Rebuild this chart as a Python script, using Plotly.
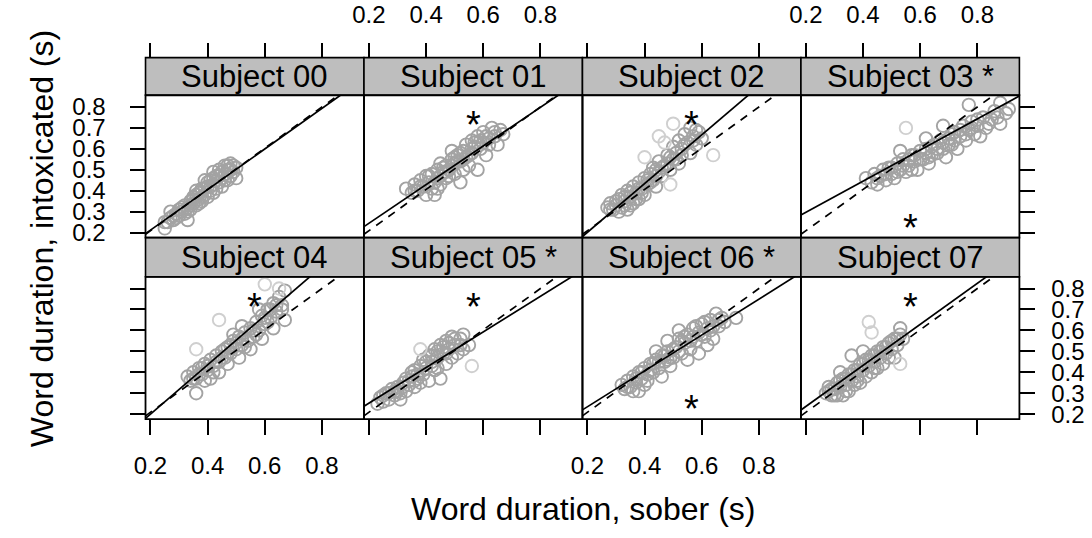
import plotly.graph_objects as go

# ---- data: word durations (s), sober vs intoxicated, per subject ----
subjects = ["Subject 00", "Subject 01", "Subject 02", "Subject 03",
            "Subject 04", "Subject 05", "Subject 06", "Subject 07"]
strip_labels = ["Subject 00", "Subject 01", "Subject 02", "Subject 03 *",
                "Subject 04", "Subject 05 *", "Subject 06 *", "Subject 07"]

sober_s00 = [0.25, 0.26, 0.27, 0.28, 0.29, 0.30, 0.30, 0.31, 0.32, 0.32, 0.33, 0.34, 0.34, 0.35, 0.35, 0.36,
             0.37, 0.37, 0.38, 0.38, 0.39, 0.40, 0.40, 0.41, 0.41, 0.42, 0.42, 0.43, 0.43, 0.44, 0.44, 0.45,
             0.45, 0.46, 0.46, 0.47, 0.47, 0.48, 0.48, 0.49, 0.50, 0.50, 0.36, 0.39, 0.33, 0.27, 0.25, 0.42,
             0.29, 0.31, 0.33, 0.35, 0.36, 0.38, 0.39, 0.40, 0.41, 0.43, 0.44, 0.45, 0.46, 0.47, 0.49, 0.28,
             0.37, 0.42, 0.48, 0.34]
intox_s00 = [0.22, 0.25, 0.27, 0.26, 0.29, 0.28, 0.31, 0.30, 0.33, 0.29, 0.32, 0.35, 0.31, 0.34, 0.37, 0.33,
             0.36, 0.39, 0.35, 0.41, 0.38, 0.37, 0.42, 0.40, 0.45, 0.39, 0.43, 0.47, 0.41, 0.44, 0.50, 0.46,
             0.42, 0.48, 0.52, 0.45, 0.50, 0.47, 0.53, 0.49, 0.51, 0.46, 0.40, 0.45, 0.26, 0.30, 0.25, 0.49,
             0.27, 0.32, 0.30, 0.36, 0.38, 0.37, 0.41, 0.44, 0.42, 0.45, 0.47, 0.49, 0.45, 0.52, 0.52, 0.28,
             0.34, 0.46, 0.50, 0.33]
sober_light_s00 = []
intox_light_s00 = []

sober_s01 = [0.33, 0.35, 0.36, 0.37, 0.38, 0.39, 0.40, 0.40, 0.41, 0.42, 0.42, 0.43, 0.44, 0.44, 0.45, 0.45,
             0.46, 0.47, 0.47, 0.48, 0.49, 0.50, 0.50, 0.51, 0.52, 0.52, 0.53, 0.54, 0.54, 0.55, 0.56, 0.56,
             0.57, 0.58, 0.58, 0.59, 0.60, 0.60, 0.61, 0.62, 0.63, 0.64, 0.65, 0.66, 0.67, 0.49, 0.44, 0.53,
             0.36, 0.38, 0.41, 0.43, 0.45, 0.46, 0.48, 0.49, 0.51, 0.52, 0.53, 0.55, 0.56, 0.57, 0.59, 0.61,
             0.62, 0.64, 0.47, 0.50]
intox_s01 = [0.41, 0.39, 0.43, 0.40, 0.45, 0.42, 0.38, 0.47, 0.44, 0.41, 0.48, 0.38, 0.46, 0.50, 0.43, 0.53,
             0.49, 0.46, 0.52, 0.50, 0.55, 0.48, 0.53, 0.57, 0.44, 0.54, 0.59, 0.56, 0.62, 0.52, 0.58, 0.64,
             0.61, 0.50, 0.66, 0.60, 0.63, 0.68, 0.57, 0.65, 0.70, 0.66, 0.62, 0.69, 0.67, 0.59, 0.41, 0.50,
             0.40, 0.42, 0.47, 0.44, 0.47, 0.51, 0.47, 0.52, 0.54, 0.58, 0.55, 0.57, 0.60, 0.63, 0.64, 0.66,
             0.62, 0.68, 0.49, 0.56]
sober_light_s01 = []
intox_light_s01 = []

sober_s02 = [0.27, 0.28, 0.29, 0.30, 0.31, 0.32, 0.32, 0.33, 0.34, 0.34, 0.35, 0.36, 0.36, 0.37, 0.38, 0.38,
             0.39, 0.40, 0.40, 0.41, 0.42, 0.43, 0.43, 0.44, 0.45, 0.45, 0.46, 0.47, 0.48, 0.49, 0.50, 0.50,
             0.51, 0.52, 0.52, 0.53, 0.54, 0.55, 0.56, 0.56, 0.57, 0.58, 0.59, 0.60, 0.31, 0.35,
             0.28, 0.30, 0.33, 0.35, 0.37, 0.39, 0.41, 0.42, 0.44, 0.46, 0.48, 0.49, 0.51, 0.53, 0.54, 0.57,
             0.58, 0.33, 0.38, 0.44]
intox_s02 = [0.32, 0.34, 0.31, 0.33, 0.36, 0.32, 0.38, 0.35, 0.31, 0.40, 0.37, 0.34, 0.42, 0.39, 0.44, 0.36,
             0.41, 0.46, 0.38, 0.43, 0.48, 0.45, 0.51, 0.42, 0.49, 0.54, 0.47, 0.52, 0.57, 0.50, 0.55, 0.61,
             0.58, 0.53, 0.64, 0.60, 0.67, 0.63, 0.58, 0.70, 0.66, 0.62, 0.68, 0.65, 0.30, 0.33,
             0.31, 0.35, 0.37, 0.39, 0.36, 0.39, 0.45, 0.44, 0.47, 0.51, 0.53, 0.56, 0.55, 0.57, 0.62, 0.64,
             0.69, 0.33, 0.41, 0.50]
sober_light_s02 = [0.40, 0.64, 0.50, 0.45, 0.47, 0.49]
intox_light_s02 = [0.56, 0.57, 0.72, 0.66, 0.63, 0.43]

sober_s03 = [0.41, 0.43, 0.44, 0.45, 0.46, 0.47, 0.48, 0.49, 0.50, 0.51, 0.52, 0.53, 0.54, 0.55, 0.56, 0.57,
             0.58, 0.59, 0.60, 0.61, 0.62, 0.63, 0.64, 0.65, 0.66, 0.67, 0.68, 0.69, 0.70, 0.71, 0.72, 0.73,
             0.74, 0.75, 0.76, 0.77, 0.78, 0.79, 0.80, 0.81, 0.82, 0.83, 0.85, 0.86, 0.88, 0.88, 0.91, 0.77,
             0.68, 0.62, 0.53,
             0.45, 0.48, 0.50, 0.52, 0.54, 0.56, 0.58, 0.60, 0.62, 0.64, 0.66, 0.68, 0.70, 0.72, 0.74, 0.76,
             0.78, 0.80, 0.84, 0.87, 0.90, 0.57, 0.63, 0.71]
intox_s03 = [0.46, 0.44, 0.48, 0.43, 0.47, 0.50, 0.45, 0.51, 0.48, 0.46, 0.53, 0.50, 0.55, 0.49, 0.52, 0.57,
             0.54, 0.50, 0.59, 0.55, 0.60, 0.53, 0.57, 0.62, 0.58, 0.64, 0.60, 0.56, 0.65, 0.62, 0.68, 0.60,
             0.66, 0.71, 0.64, 0.69, 0.73, 0.67, 0.71, 0.66, 0.75, 0.70, 0.74, 0.78, 0.72, 0.82, 0.79, 0.81,
             0.71, 0.65, 0.59,
             0.46, 0.48, 0.51, 0.49, 0.52, 0.55, 0.57, 0.55, 0.58, 0.61, 0.60, 0.63, 0.62, 0.64, 0.69, 0.67,
             0.70, 0.74, 0.72, 0.75, 0.77, 0.50, 0.56, 0.67]
sober_light_s03 = [0.55]
intox_light_s03 = [0.70]

sober_s04 = [0.33, 0.34, 0.35, 0.36, 0.36, 0.37, 0.38, 0.39, 0.39, 0.40, 0.41, 0.41, 0.42, 0.43, 0.44, 0.44,
             0.45, 0.46, 0.47, 0.47, 0.48, 0.49, 0.50, 0.51, 0.51, 0.52, 0.53, 0.54, 0.55, 0.55, 0.56, 0.57,
             0.58, 0.59, 0.59, 0.60, 0.61, 0.62, 0.63, 0.63, 0.64, 0.65, 0.66, 0.67, 0.67, 0.58, 0.52,
             0.35, 0.37, 0.40, 0.42, 0.43, 0.45, 0.46, 0.48, 0.50, 0.52, 0.53, 0.56, 0.57, 0.60, 0.61, 0.62,
             0.64, 0.66, 0.38, 0.49]
intox_s04 = [0.38, 0.36, 0.40, 0.30, 0.37, 0.42, 0.39, 0.36, 0.44, 0.41, 0.37, 0.46, 0.43, 0.48, 0.45, 0.40,
             0.50, 0.47, 0.52, 0.44, 0.49, 0.55, 0.51, 0.47, 0.57, 0.53, 0.59, 0.55, 0.61, 0.51, 0.57, 0.64,
             0.60, 0.56, 0.67, 0.63, 0.70, 0.66, 0.61, 0.73, 0.69, 0.76, 0.72, 0.65, 0.79, 0.70, 0.62,
             0.37, 0.39, 0.43, 0.40, 0.45, 0.47, 0.51, 0.53, 0.54, 0.56, 0.52, 0.60, 0.58, 0.66, 0.64, 0.70,
             0.72, 0.70, 0.42, 0.58]
sober_light_s04 = [0.60, 0.44, 0.36, 0.65]
intox_light_s04 = [0.82, 0.65, 0.51, 0.80]

sober_s05 = [0.23, 0.24, 0.25, 0.26, 0.27, 0.28, 0.29, 0.30, 0.31, 0.32, 0.33, 0.33, 0.34, 0.35, 0.36, 0.36,
             0.37, 0.38, 0.39, 0.39, 0.40, 0.41, 0.41, 0.42, 0.43, 0.43, 0.44, 0.45, 0.45, 0.46, 0.47, 0.47,
             0.48, 0.49, 0.49, 0.50, 0.51, 0.52, 0.53, 0.53, 0.55, 0.44, 0.38, 0.31,
             0.25, 0.27, 0.29, 0.32, 0.34, 0.35, 0.37, 0.40, 0.42, 0.44, 0.46, 0.48, 0.50, 0.52, 0.47, 0.42,
             0.36, 0.30]
intox_s05 = [0.25, 0.28, 0.26, 0.30, 0.27, 0.32, 0.29, 0.33, 0.30, 0.35, 0.31, 0.37, 0.34, 0.38, 0.33, 0.41,
             0.37, 0.43, 0.39, 0.46, 0.42, 0.48, 0.36, 0.45, 0.51, 0.41, 0.47, 0.53, 0.37, 0.49, 0.55, 0.44,
             0.51, 0.57, 0.47, 0.53, 0.49, 0.56, 0.58, 0.51, 0.53, 0.42, 0.35, 0.27,
             0.29, 0.30, 0.31, 0.33, 0.36, 0.40, 0.39, 0.45, 0.48, 0.50, 0.52, 0.54, 0.56, 0.53, 0.49, 0.43,
             0.36, 0.31]
sober_light_s05 = [0.56, 0.38]
intox_light_s05 = [0.43, 0.51]

sober_s06 = [0.32, 0.33, 0.34, 0.35, 0.36, 0.37, 0.38, 0.38, 0.39, 0.40, 0.41, 0.41, 0.42, 0.43, 0.44, 0.45,
             0.46, 0.46, 0.47, 0.48, 0.48, 0.49, 0.50, 0.51, 0.52, 0.53, 0.54, 0.55, 0.55, 0.56, 0.57, 0.58,
             0.59, 0.59, 0.60, 0.61, 0.62, 0.63, 0.63, 0.64, 0.65, 0.66, 0.67, 0.72, 0.44, 0.52, 0.36, 0.40,
             0.34, 0.37, 0.39, 0.42, 0.43, 0.45, 0.47, 0.49, 0.50, 0.52, 0.54, 0.56, 0.57, 0.58, 0.60, 0.61,
             0.62, 0.64, 0.66, 0.68, 0.48, 0.53]
intox_s06 = [0.34, 0.32, 0.36, 0.33, 0.38, 0.35, 0.31, 0.40, 0.37, 0.42, 0.36, 0.39, 0.44, 0.40, 0.46, 0.42,
             0.48, 0.38, 0.45, 0.55, 0.50, 0.43, 0.47, 0.52, 0.56, 0.49, 0.54, 0.58, 0.46, 0.51, 0.61, 0.55,
             0.59, 0.49, 0.63, 0.57, 0.53, 0.65, 0.60, 0.56, 0.68, 0.62, 0.66, 0.66, 0.50, 0.60, 0.31, 0.34,
             0.33, 0.37, 0.40, 0.41, 0.44, 0.45, 0.48, 0.47, 0.51, 0.50, 0.57, 0.55, 0.57, 0.62, 0.58, 0.64,
             0.61, 0.62, 0.65, 0.64, 0.46, 0.55]
sober_light_s06 = []
intox_light_s06 = []

sober_s07 = [0.27, 0.28, 0.29, 0.30, 0.31, 0.31, 0.32, 0.33, 0.33, 0.34, 0.35, 0.35, 0.36, 0.36, 0.37, 0.37,
             0.38, 0.39, 0.39, 0.40, 0.41, 0.41, 0.42, 0.43, 0.43, 0.44, 0.45, 0.45, 0.46, 0.47, 0.47, 0.48,
             0.49, 0.50, 0.51, 0.51, 0.52, 0.53, 0.53, 0.54, 0.40, 0.32,
             0.28, 0.30, 0.32, 0.34, 0.36, 0.38, 0.40, 0.42, 0.44, 0.46, 0.48, 0.50, 0.52, 0.34, 0.38, 0.44,
             0.49, 0.29]
intox_s07 = [0.30, 0.33, 0.29, 0.32, 0.35, 0.29, 0.33, 0.37, 0.29, 0.34, 0.39, 0.31, 0.36, 0.48, 0.41, 0.34,
             0.38, 0.44, 0.35, 0.41, 0.46, 0.38, 0.43, 0.48, 0.40, 0.45, 0.50, 0.42, 0.47, 0.52, 0.44, 0.49,
             0.54, 0.51, 0.56, 0.47, 0.53, 0.58, 0.61, 0.56, 0.50, 0.40,
             0.31, 0.29, 0.36, 0.37, 0.39, 0.41, 0.44, 0.46, 0.48, 0.50, 0.52, 0.55, 0.56, 0.31, 0.36, 0.42,
             0.47, 0.32]
sober_light_s07 = [0.42, 0.43, 0.53]
intox_light_s07 = [0.64, 0.59, 0.44]

# per-subject fitted lines (solid) and the pooled fit (dashed)
fit_intercept = [0.018, 0.060, -0.031, 0.148, -0.035, 0.082, 0.064, 0.041]
fit_slope = [0.969, 0.923, 1.163, 0.744, 1.176, 0.851, 0.857, 0.980]
pooled_intercept = 0.012
pooled_slope = 0.985

# significance marker per subject: above / below the cloud, or none
star_side = ["", "up", "up", "down", "up", "up", "down", "up"]
star_x = 0.565
star_y = {"up": 0.75, "down": 0.262}

x_ticks = [0.2, 0.4, 0.6, 0.8]
x_tick_text = ["0.2", "0.4", "0.6", "0.8"]
y_ticks = [0.2, 0.3, 0.4, 0.5, 0.6, 0.7, 0.8]
y_tick_text = ["0.2", "0.3", "0.4", "0.5", "0.6", "0.7", "0.8"]

sober = [sober_s00, sober_s01, sober_s02, sober_s03, sober_s04, sober_s05, sober_s06, sober_s07]
intox = [intox_s00, intox_s01, intox_s02, intox_s03, intox_s04, intox_s05, intox_s06, intox_s07]
sober_light = [sober_light_s00, sober_light_s01, sober_light_s02, sober_light_s03,
               sober_light_s04, sober_light_s05, sober_light_s06, sober_light_s07]
intox_light = [intox_light_s00, intox_light_s01, intox_light_s02, intox_light_s03,
               intox_light_s04, intox_light_s05, intox_light_s06, intox_light_s07]

# ---- layout geometry (pixels) ----
W, H = 1092, 538
X_RANGE = [0.1827, 0.947]
Y_RANGE = [0.1765, 0.856]
col_left = [135 + 220.9 * c for c in range(4)]
panel_w = 220.9
panel_rows = [(95, 240), (280, 425)]
strip_rows = [(56.7, 95), (240, 280)]

FONT = "Liberation Sans, Arial, Helvetica, sans-serif"
PT_COLOR = "#A3A3A3"
PT_LIGHT = "#CFCFCF"


def px_x(p):
    return p / W


def px_y(p):
    return 1 - p / H


fig = go.Figure()
layout = dict(
    width=W, height=H,
    margin=dict(l=0, r=0, t=0, b=0),
    paper_bgcolor="white", plot_bgcolor="white",
    showlegend=False,
    font=dict(family=FONT, color="black"),
)
shapes = []
annotations = []

for i in range(8):
    row, col = divmod(i, 4)
    n = "" if i == 0 else str(i + 1)
    xa, ya = "x" + n, "y" + n
    x0, x1 = col_left[col], col_left[col] + panel_w
    pt, pb = panel_rows[row]
    st, sb = strip_rows[row]

    xaxis = dict(
        domain=[px_x(x0), px_x(x1)], range=X_RANGE,
        showgrid=False, zeroline=False, showline=False,
        ticks="outside", ticklen=15, tickwidth=1.6, tickcolor="black",
        tickvals=x_ticks, ticktext=x_tick_text,
        tickfont=dict(family=FONT, size=24, color="black"),
        ticklabelstandoff=10,
    )
    if row == 0:
        xaxis.update(side="top", anchor="free", position=px_y(st),
                     showticklabels=col in (1, 3))
    else:
        xaxis.update(side="bottom", anchor=ya, showticklabels=col in (0, 2))

    yaxis = dict(
        domain=[px_y(pb), px_y(pt)], range=Y_RANGE, anchor=xa,
        showgrid=False, zeroline=False, showline=False,
        tickvals=y_ticks, ticktext=y_tick_text,
        tickfont=dict(family=FONT, size=24, color="black"),
    )
    if col == 0:
        yaxis.update(side="left", ticks="outside", ticklen=15, tickwidth=1.6,
                     tickcolor="black", showticklabels=row == 0, ticklabelstandoff=19)
    elif col == 3:
        yaxis.update(side="right", ticks="outside", ticklen=15, tickwidth=1.6,
                     tickcolor="black", showticklabels=row == 1, ticklabelstandoff=11)
    else:
        yaxis.update(ticks="", showticklabels=False)

    layout["xaxis" + n] = xaxis
    layout["yaxis" + n] = yaxis

    # observations
    fig.add_trace(go.Scatter(
        x=sober[i], y=intox[i], xaxis=xa, yaxis=ya, mode="markers",
        marker=dict(symbol="circle-open", size=12.5, color=PT_COLOR, line=dict(width=1.9)),
        hoverinfo="skip"))
    if sober_light[i]:
        fig.add_trace(go.Scatter(
            x=sober_light[i], y=intox_light[i], xaxis=xa, yaxis=ya, mode="markers",
            marker=dict(symbol="circle-open", size=12.5, color=PT_LIGHT, line=dict(width=1.9)),
            hoverinfo="skip"))

    # pooled fit (dashed) and subject fit (solid) across the panel
    fig.add_trace(go.Scatter(
        x=X_RANGE, y=[pooled_intercept + pooled_slope * v for v in X_RANGE],
        xaxis=xa, yaxis=ya, mode="lines",
        line=dict(color="black", width=1.7, dash="8px,7px"), hoverinfo="skip"))
    fig.add_trace(go.Scatter(
        x=X_RANGE, y=[fit_intercept[i] + fit_slope[i] * v for v in X_RANGE],
        xaxis=xa, yaxis=ya, mode="lines",
        line=dict(color="black", width=1.7), hoverinfo="skip"))

    if star_side[i]:
        annotations.append(dict(
            x=star_x, y=star_y[star_side[i]], xref=xa, yref=ya, text="*",
            showarrow=False, font=dict(family=FONT, size=38, color="black"),
            xanchor="center", yanchor="middle", yshift=-8))

    # strip
    shapes.append(dict(type="rect", xref="paper", yref="paper",
                       x0=px_x(x0), x1=px_x(x1), y0=px_y(sb), y1=px_y(st),
                       fillcolor="#BEBEBE", line=dict(color="black", width=1.6),
                       layer="below"))
    annotations.append(dict(
        x=px_x((x0 + x1) / 2), y=px_y((st + sb) / 2), xref="paper", yref="paper",
        text=strip_labels[i], showarrow=False,
        font=dict(family=FONT, size=31, color="black"),
        xanchor="center", yanchor="middle"))

    # panel frame
    shapes.append(dict(type="rect", xref="paper", yref="paper",
                       x0=px_x(x0), x1=px_x(x1), y0=px_y(pb), y1=px_y(pt),
                       line=dict(color="black", width=1.8), layer="above"))

# axis titles
annotations.append(dict(
    x=px_x(577), y=px_y(517), xref="paper", yref="paper",
    text="Word duration, sober (s)", showarrow=False,
    font=dict(family=FONT, size=32, color="black"), xanchor="center", yanchor="middle"))
annotations.append(dict(
    x=px_x(30), y=px_y(241), xref="paper", yref="paper",
    text="Word duration, intoxicated (s)", showarrow=False, textangle=-90,
    font=dict(family=FONT, size=32, color="black"), xanchor="center", yanchor="middle"))

layout["shapes"] = shapes
layout["annotations"] = annotations
fig.update_layout(**layout)

fig.write_html("out.html")
